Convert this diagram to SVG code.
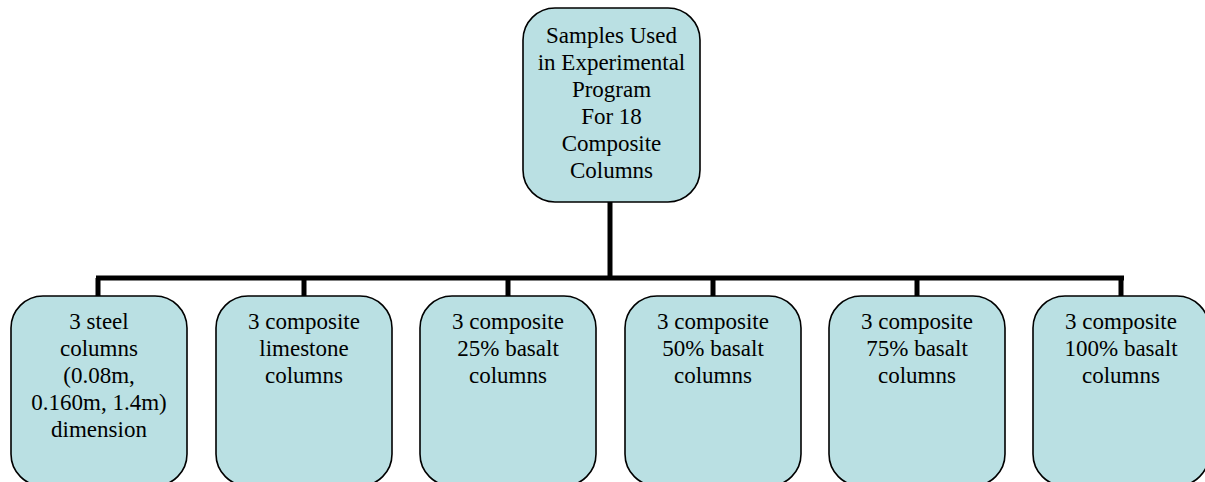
<svg xmlns="http://www.w3.org/2000/svg" width="1205" height="482" viewBox="0 0 1205 482">
<style>
.box{fill:#bae0e3;stroke:#000;stroke-width:1.6}
.t{font-family:'Times New Roman','Liberation Serif',Tinos,'DejaVu Serif',serif;font-size:23px;fill:#000;text-anchor:middle}
.c{stroke:#000;stroke-width:5;fill:none}
</style>
<rect width="1205" height="482" fill="#fff"/>
<g id="connectors">
<path class="c" d="M610 201V278"/>
<path class="c" d="M96 278H1124"/>
<path class="c" d="M98 278V297M304 278V297M508 278V297M713 278V297M917 278V297M1121 278V297"/>
</g>
<g id="root">
<rect class="box" x="523" y="8" width="177" height="194" rx="32"/>
<text class="t" x="611.5" y="43">Samples Used</text>
<text class="t" x="611.5" y="70">in Experimental</text>
<text class="t" x="611.5" y="97">Program</text>
<text class="t" x="611.5" y="124">For 18</text>
<text class="t" x="611.5" y="151">Composite</text>
<text class="t" x="611.5" y="178">Columns</text>
</g>
<g id="n1">
<rect class="box" x="11" y="296" width="176" height="190" rx="32"/>
<text class="t" x="99" y="329">3 steel</text>
<text class="t" x="99" y="356">columns</text>
<text class="t" x="99" y="383">(0.08m,</text>
<text class="t" x="99" y="410">0.160m, 1.4m)</text>
<text class="t" x="99" y="437">dimension</text>
</g>
<g id="n2">
<rect class="box" x="216" y="296" width="176" height="190" rx="32"/>
<text class="t" x="304" y="329">3 composite</text>
<text class="t" x="304" y="356">limestone</text>
<text class="t" x="304" y="383">columns</text>
</g>
<g id="n3">
<rect class="box" x="420" y="296" width="176" height="190" rx="32"/>
<text class="t" x="508" y="329">3 composite</text>
<text class="t" x="508" y="356">25% basalt</text>
<text class="t" x="508" y="383">columns</text>
</g>
<g id="n4">
<rect class="box" x="625" y="296" width="176" height="190" rx="32"/>
<text class="t" x="713" y="329">3 composite</text>
<text class="t" x="713" y="356">50% basalt</text>
<text class="t" x="713" y="383">columns</text>
</g>
<g id="n5">
<rect class="box" x="829" y="296" width="176" height="190" rx="32"/>
<text class="t" x="917" y="329">3 composite</text>
<text class="t" x="917" y="356">75% basalt</text>
<text class="t" x="917" y="383">columns</text>
</g>
<g id="n6">
<rect class="box" x="1033" y="296" width="176" height="190" rx="32"/>
<text class="t" x="1121" y="329">3 composite</text>
<text class="t" x="1121" y="356">100% basalt</text>
<text class="t" x="1121" y="383">columns</text>
</g>
</svg>
